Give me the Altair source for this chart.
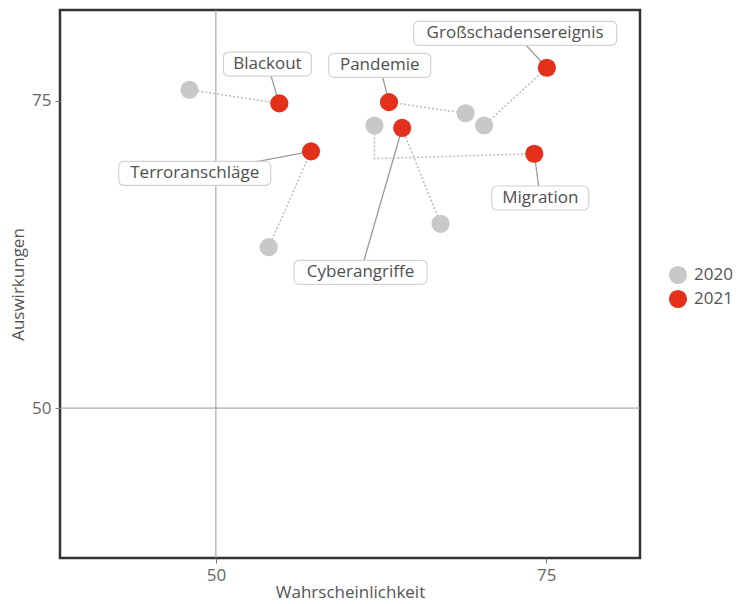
import altair as alt
import pandas as pd

# ---------------- data ----------------
categories = ["Blackout", "Pandemie", "Großschadensereignis",
              "Terroranschläge", "Cyberangriffe", "Migration"]
x_2020 = [48.0, 68.9, 70.3, 54.0, 67.0, 62.0]
y_2020 = [75.9, 74.0, 73.0, 63.1, 65.0, 73.0]
x_2021 = [54.8, 63.1, 75.05, 57.2, 64.1, 74.1]
y_2021 = [74.8, 74.9, 77.7, 70.9, 72.8, 70.7]
label_x = [53.9, 62.4, 72.65, 48.4, 60.95, 74.55]
label_y = [78.0, 77.9, 80.5, 69.1, 61.05, 67.1]
# the Migration connector bends once on its way from 2020 to 2021
bend_category = ["Migration"]
bend_x = [62.0]
bend_y = [70.3]
years = ["2020", "2021"]
x_ticks = [50, 75]
y_ticks = [50, 75]
ref_x = [50]
ref_y = [50]

# ---------------- styling ----------------
FONT = "Open Sans"
TEXT = "#505050"
box_widths = {"Blackout": 88, "Pandemie": 102, "Großschadensereignis": 203,
              "Terroranschläge": 152, "Cyberangriffe": 133, "Migration": 97}

xscale = alt.Scale(domain=[38.2, 82.1], nice=False, zero=False)
yscale = alt.Scale(domain=[37.8, 82.4], nice=False, zero=False)

# ---------------- tables ----------------
points = pd.DataFrame(
    [{"cat": c, "year": "2020", "x": x, "y": y} for c, x, y in zip(categories, x_2020, y_2020)]
    + [{"cat": c, "year": "2021", "x": x, "y": y} for c, x, y in zip(categories, x_2021, y_2021)]
)

path_rows = []
for c, x0, y0, x1, y1 in zip(categories, x_2020, y_2020, x_2021, y_2021):
    path_rows.append({"cat": c, "step": 0, "x": x0, "y": y0})
    path_rows.append({"cat": c, "step": 2, "x": x1, "y": y1})
for c, bx, by in zip(bend_category, bend_x, bend_y):
    path_rows.append({"cat": c, "step": 1, "x": bx, "y": by})
paths = pd.DataFrame(path_rows)

labels = pd.DataFrame({"cat": categories, "lx": label_x, "ly": label_y,
                       "x": x_2021, "y": y_2021})

X = alt.X("x:Q", scale=xscale,
          axis=alt.Axis(values=x_ticks, title="Wahrscheinlichkeit"))
Y = alt.Y("y:Q", scale=yscale,
          axis=alt.Axis(values=y_ticks, title="Auswirkungen"))

ref_v = alt.Chart(pd.DataFrame({"x": ref_x})).mark_rule(
    color="#9a9a9a", strokeWidth=1).encode(x=alt.X("x:Q", scale=xscale))
ref_h = alt.Chart(pd.DataFrame({"y": ref_y})).mark_rule(
    color="#9a9a9a", strokeWidth=1).encode(y=alt.Y("y:Q", scale=yscale))

connectors = alt.Chart(paths).mark_line(
    color="#bdbdbd", strokeWidth=1.6, strokeDash=[2, 2]
).encode(x=X, y=Y, detail="cat:N", order="step:Q")

leaders = alt.Chart(labels).mark_rule(color="#9a9a9a", strokeWidth=1.3).encode(
    x=alt.X("x:Q", scale=xscale), y=alt.Y("y:Q", scale=yscale),
    x2="lx:Q", y2="ly:Q")

boxes = []
for c in categories:
    boxes.append(
        alt.Chart(labels).transform_filter(alt.datum.cat == c).mark_rect(
            width=box_widths[c], height=24, cornerRadius=5,
            fill="white", stroke="#d2d2d2", strokeWidth=1.2
        ).encode(x=alt.X("lx:Q", scale=xscale), y=alt.Y("ly:Q", scale=yscale))
    )

texts = alt.Chart(labels).mark_text(
    font=FONT, fontSize=17, color=TEXT
).encode(x=alt.X("lx:Q", scale=xscale), y=alt.Y("ly:Q", scale=yscale), text="cat:N")

dots = alt.Chart(points).mark_circle(size=330, opacity=1).encode(
    x=X, y=Y,
    color=alt.Color("year:N",
                    scale=alt.Scale(domain=years, range=["#c8c8c8", "#e3301a"]),
                    legend=alt.Legend(title=None, orient="none", legendX=608, legendY=255,
                                      symbolType="circle", symbolSize=330,
                                      labelFont=FONT, labelFontSize=17,
                                      labelColor="#555", rowPadding=4, labelOffset=6)),
    order=alt.Order("year:N"),
)

chart = alt.layer(ref_v, ref_h, connectors, leaders, *boxes, texts, dots).properties(
    width=580, height=548,
    autosize=alt.AutoSizeParams(type="none"),
    padding={"left": 60, "top": 10, "right": 103, "bottom": 46},
).configure_view(
    stroke="#333333", strokeWidth=2.5
).configure_axis(
    grid=False, domain=False, tickColor="#777", tickSize=5, tickWidth=1,
    labelFont=FONT, labelFontSize=17, labelColor="#666", labelPadding=4,
    titleFont=FONT, titleFontSize=17, titleFontWeight="normal", titleColor="#555",
).configure_axisX(titlePadding=1).configure_axisY(titlePadding=4)

chart.save("out.html", embed_options={"renderer": "svg", "actions": False})
